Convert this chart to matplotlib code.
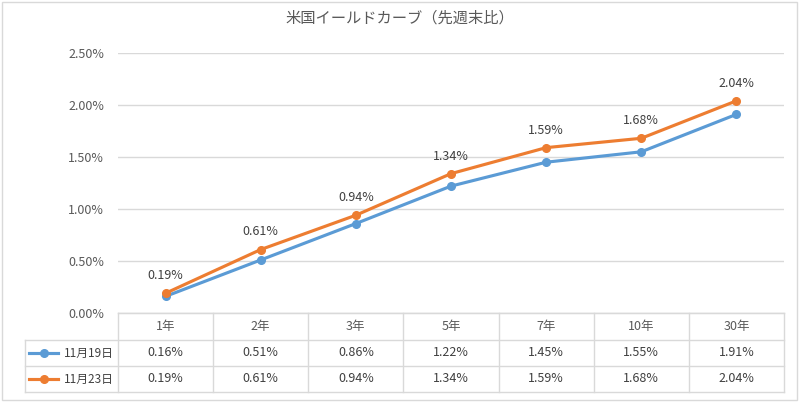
import numpy as np
import matplotlib
matplotlib.use("Agg")
import matplotlib.pyplot as plt
from matplotlib.patches import Rectangle
from matplotlib.lines import Line2D

plt.rcParams['font.family'] = ['Noto Sans CJK JP', 'DejaVu Sans']

# データ
categories = ['1年', '2年', '3年', '5年', '7年', '10年', '30年']
series_names = ['11月19日', '11月23日']
nov19 = [0.16, 0.51, 0.86, 1.22, 1.45, 1.55, 1.91]
nov23 = [0.19, 0.61, 0.94, 1.34, 1.59, 1.68, 2.04]
colors = ['#5B9BD5', '#ED7D31']
title = '米国イールドカーブ（先週末比）'

W, H = 800, 405
fig = plt.figure(figsize=(W / 100, H / 100), dpi=100)

def fx(px):
    return px / W

def fy(py):
    return 1 - py / H

# 外枠
fig.patches.append(Rectangle((fx(2), fy(400)), fx(795), 398 / H, transform=fig.transFigure,
                             fill=False, edgecolor='#D9D9D9', linewidth=1))

left, right, top, bottom = 118, 784, 53, 313
ax = fig.add_axes([fx(left), fy(bottom), fx(right - left), (bottom - top) / H])

x = np.arange(len(categories))
for vals, c in zip([nov19, nov23], colors):
    ax.plot(x, vals, color=c, linewidth=2.25, marker='o', markersize=5.5, zorder=3)

for xi, v in zip(x, nov23):
    ax.annotate(f'{v:.2f}%', (xi, v), xytext=(0, 8), textcoords='offset points',
                ha='center', va='bottom', fontsize=9, color='#404040')

ax.set_xlim(-0.5, len(categories) - 0.5)
ax.set_ylim(0, 2.5)
ax.set_yticks(np.arange(0, 2.51, 0.5))
ax.set_yticklabels([f'{t:.2f}%' for t in np.arange(0, 2.51, 0.5)], fontsize=9, color='#595959')
ax.tick_params(axis='y', length=0, pad=10)
ax.tick_params(axis='x', length=0, labelbottom=False)
ax.grid(axis='y', color='#D9D9D9', linewidth=1)
ax.set_axisbelow(True)
for s in ['left', 'right', 'top']:
    ax.spines[s].set_visible(False)
ax.spines['bottom'].set_color('#D9D9D9')

fig.text(0.5, fy(18), title, ha='center', va='center', fontsize=11, color='#595959')

# データテーブル
grid_c = '#D9D9D9'
row_y = [313, 340, 366, 392]
col_w = (right - left) / len(categories)

def hline(x0, x1, y):
    fig.add_artist(Line2D([fx(x0), fx(x1)], [fy(y), fy(y)], color=grid_c, linewidth=1))

def vline(xp, y0, y1):
    fig.add_artist(Line2D([fx(xp), fx(xp)], [fy(y0), fy(y1)], color=grid_c, linewidth=1))

hline(left, right, row_y[0])
for yy in row_y[1:]:
    hline(25, right, yy)
vline(25, row_y[1], row_y[3])
for i in range(len(categories) + 1):
    vline(left + i * col_w, row_y[0], row_y[3])

for i, cat in enumerate(categories):
    cx = left + (i + 0.5) * col_w
    fig.text(fx(cx), fy((row_y[0] + row_y[1]) / 2), cat, ha='center', va='center',
             fontsize=9, color='#595959')
    for r, vals in enumerate([nov19, nov23]):
        fig.text(fx(cx), fy((row_y[r + 1] + row_y[r + 2]) / 2), f'{vals[i]:.2f}%',
                 ha='center', va='center', fontsize=9, color='#404040')

for r, (name, c) in enumerate(zip(series_names, colors)):
    cy = (row_y[r + 1] + row_y[r + 2]) / 2
    fig.add_artist(Line2D([fx(29), fx(58)], [fy(cy), fy(cy)], color=c, linewidth=2.25))
    fig.add_artist(Line2D([fx(43.5)], [fy(cy)], color=c, marker='o', markersize=5.5))
    fig.text(fx(114), fy(cy), name, ha='right', va='center', fontsize=8.5, color='#404040')

fig.savefig('out.png', dpi=100)
